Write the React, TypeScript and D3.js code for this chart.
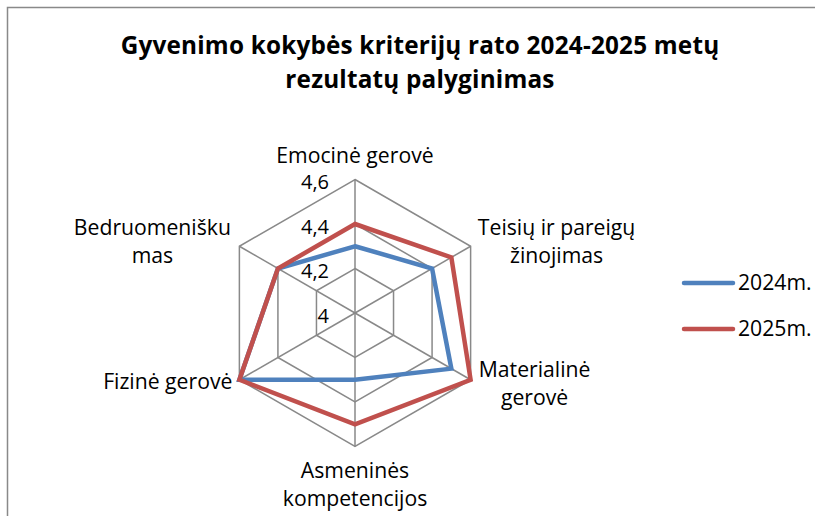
import React, { useEffect, useRef } from 'react';
import * as d3 from 'd3';

// categories (clockwise from top), each split into display lines
const categories = [
  ['Emocinė gerovė'],
  ['Teisių ir pareigų', 'žinojimas'],
  ['Materialinė', 'gerovė'],
  ['Asmeninės', 'kompetencijos'],
  ['Fizinė gerovė'],
  ['Bedruomenišku', 'mas'],
];
const values2024 = [4.3, 4.4, 4.5, 4.3, 4.6, 4.4];
const values2025 = [4.4, 4.5, 4.6, 4.5, 4.6, 4.4];
const ticks = [4, 4.2, 4.4, 4.6];
const seriesNames = ['2024m.', '2025m.'];
const seriesColors = ['#4F81BD', '#C0504D'];

const W = 815;
const H = 516;
const FONT = '"Open Sans", Lato, sans-serif';

const App = () => {
  const ref = useRef<SVGSVGElement>(null);

  useEffect(() => {
    const svg = d3.select(ref.current);
    svg.selectAll('*').remove();

    // outer frame
    svg.append('rect')
      .attr('x', 7.5).attr('y', 7.5)
      .attr('width', W).attr('height', H)
      .attr('fill', 'white')
      .attr('stroke', '#898989')
      .attr('stroke-width', 1.5);

    // title
    const title = svg.append('text')
      .attr('text-anchor', 'middle')
      .style('font-family', FONT)
      .style('font-weight', 'bold')
      .style('font-size', '24.3px')
      .style('letter-spacing', '0.2px')
      .attr('fill', '#000');
    title.append('tspan').attr('x', 420).attr('y', 54).text('Gyvenimo kokybės kriterijų rato 2024-2025 metų');
    title.append('tspan').attr('x', 420).attr('y', 88).text('rezultatų palyginimas');

    const cx = 355;
    const cy = 313;
    const r = d3.scaleLinear().domain([4, 4.6]).range([0, 133.5]);
    const n = categories.length;
    const angle = (i: number) => (i * 2 * Math.PI) / n;
    const pt = (i: number, v: number) => [
      cx + r(v) * Math.sin(angle(i)),
      cy - r(v) * Math.cos(angle(i)),
    ];

    const g = svg.append('g');

    // grid rings
    ticks.slice(1).forEach(t => {
      g.append('polygon')
        .attr('points', d3.range(n).map(i => pt(i, t).join(',')).join(' '))
        .attr('fill', 'none')
        .attr('stroke', '#898989')
        .attr('stroke-width', 1.5);
    });
    // spokes
    d3.range(n).forEach(i => {
      const [x, y] = pt(i, 4.6);
      g.append('line')
        .attr('x1', cx).attr('y1', cy).attr('x2', x).attr('y2', y)
        .attr('stroke', '#898989')
        .attr('stroke-width', 1.5);
    });

    // tick labels
    g.selectAll('.tick')
      .data(ticks)
      .enter().append('text')
      .attr('x', cx - 26)
      .attr('y', d => cy - r(d) + 2)
      .attr('text-anchor', 'end')
      .attr('dominant-baseline', 'central')
      .style('font-family', FONT)
      .style('font-size', '20px')
      .text(d => String(d).replace('.', ','));

    // series
    const line = d3.line<number>()
      .x((d, i) => pt(i, d)[0])
      .y((d, i) => pt(i, d)[1])
      .curve(d3.curveLinearClosed);
    [values2024, values2025].forEach((vals, s) => {
      g.append('path')
        .attr('d', line(vals))
        .attr('fill', 'none')
        .attr('stroke', seriesColors[s])
        .attr('stroke-width', 4.5)
        .attr('stroke-linejoin', 'miter');
    });

    // category labels: anchor offsets from each outer vertex
    const labelPos = [
      { dx: 0, dy: -17, anchor: 'middle' },
      { dx: 86, dy: -11, anchor: 'middle' },
      { dx: 64, dy: -3, anchor: 'middle' },
      { dx: 0, dy: 31, anchor: 'middle' },
      { dx: -7, dy: 9, anchor: 'end' },
      { dx: -87, dy: -11, anchor: 'middle' },
    ];
    categories.forEach((lines, i) => {
      const [x, y] = pt(i, 4.6);
      const p = labelPos[i];
      const t = g.append('text')
        .attr('text-anchor', p.anchor)
        .style('font-family', FONT)
        .style('font-size', '21.2px');
      lines.forEach((ln, k) => {
        t.append('tspan')
          .attr('x', x + p.dx)
          .attr('y', y + p.dy + k * 28)
          .text(ln);
      });
    });

    // legend
    const legend = svg.append('g');
    seriesNames.forEach((name, s) => {
      const y = 283 + s * 46;
      legend.append('line')
        .attr('x1', 684).attr('x2', 733)
        .attr('y1', y).attr('y2', y)
        .attr('stroke', seriesColors[s])
        .attr('stroke-width', 4.5)
        .attr('stroke-linecap', 'round');
      legend.append('text')
        .attr('x', 738).attr('y', y + 7)
        .style('font-family', FONT)
        .style('font-size', '21.2px')
        .text(name);
    });
  }, []);

  return (
    <svg ref={ref} width={W} height={H} style={{ position: 'absolute', left: 0, top: 0 }} />
  );
};

export default App;
